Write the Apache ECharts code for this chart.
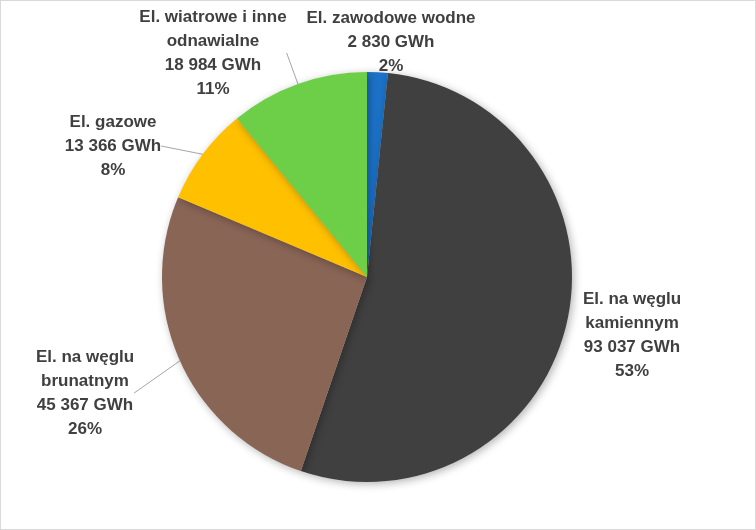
<!DOCTYPE html>
<html>
<head>
<meta charset="utf-8">
<script src="https://cdn.jsdelivr.net/npm/echarts@6/dist/echarts.min.js"></script>
<style>
    html, body { margin: 0; padding: 0; background: #ffffff; }
    #chart { width: 756px; height: 530px; box-sizing: border-box; border: 1px solid #d9d9d9; }
</style>
</head>
<body>
<div id="chart"></div>
<script>
const sourceNames = [
    "El. zawodowe wodne",
    "El. na węglu\nkamiennym",
    "El. na węglu\nbrunatnym",
    "El. gazowe",
    "El. wiatrowe i inne\nodnawialne",
];
const energyGWh = [2830, 93037, 45367, 13366, 18984];
const sliceColors = ["#1c72c8", "#404040", "#896556", "#ffc000", "#6dcf47"];

// label centres
const labelCenters = [
    [390, 41],
    [631, 334],
    [84, 392],
    [112, 145],
    [212, 52],
];
const showLine = [false, false, true, true, true];

function formatThousands(value) {
    return String(value).replace(/\B(?=(\d{3})+(?!\d))/g, " ");
}

function buildData() {
    return energyGWh.map((value, i) => ({
        name: sourceNames[i],
        value,
        itemStyle: { color: sliceColors[i] },
        labelLine: { show: showLine[i] },
    }));
}

const chart = echarts.init(document.getElementById("chart"));

chart.setOption({
    backgroundColor: "#ffffff",
    animation: false,
    series: [
        {
            type: "pie",
            center: [366, 276],
            radius: [0, 205],
            startAngle: 90,
            clockwise: true,
            percentPrecision: 0,
            data: buildData(),
            itemStyle: {
                borderWidth: 0,
                shadowBlur: 8,
                shadowOffsetX: 2,
                shadowOffsetY: 2,
                shadowColor: "rgba(0, 0, 0, 0.3)",
            },
            label: {
                show: true,
                position: "outside",
                formatter(params) {
                    return `${params.name}\n${formatThousands(params.value)} GWh\n${params.percent}%`;
                },
                color: "#404040",
                fontFamily: "Liberation Sans, Arial, sans-serif",
                fontWeight: "bold",
                fontSize: 17,
                lineHeight: 24,
                align: "center",
            },
            labelLine: {
                show: true,
                length: 10,
                length2: 0,
                smooth: false,
                lineStyle: { color: "#a6a6a6", width: 1 },
            },
            labelLayout(params) {
                const [x, y] = labelCenters[params.dataIndex];
                return {
                    x,
                    y,
                    align: "center",
                    verticalAlign: "middle",
                };
            },
        },
    ],
});
</script>
</body>
</html>
